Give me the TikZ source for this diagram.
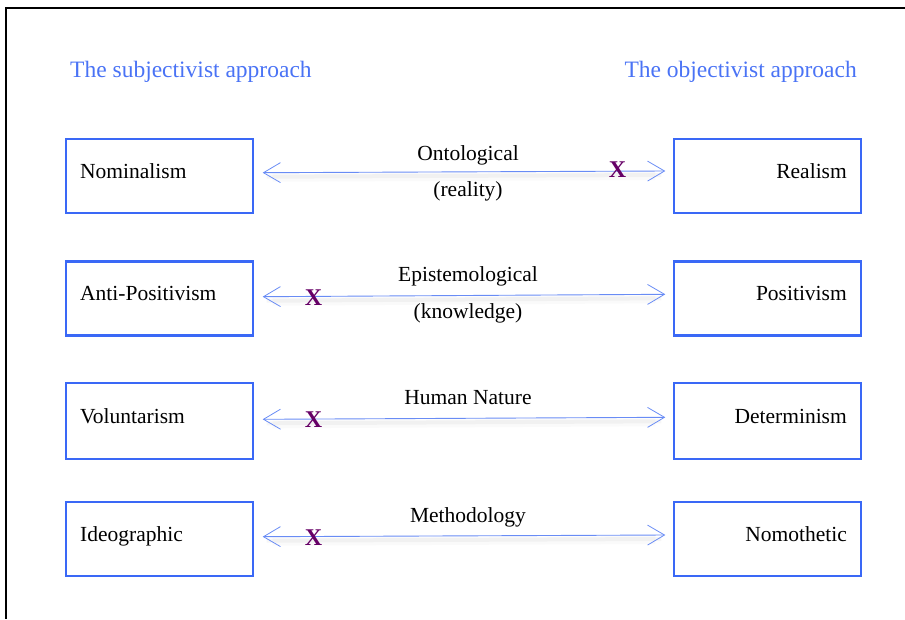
\documentclass[tikz,border=0pt]{standalone}
\usepackage{fontspec}
\setmainfont{Liberation Serif}
\usetikzlibrary{arrows.meta}
\definecolor{boxblue}{RGB}{58,104,246}
\definecolor{headblue}{RGB}{74,115,245}
\definecolor{arrblue}{RGB}{105,140,245}
\definecolor{xpurple}{RGB}{102,0,102}
\begin{document}
\begin{tikzpicture}[x=1pt,y=-1pt,
  box/.style={draw=boxblue,line width=2.4pt,minimum width=187pt,minimum height=74pt,inner sep=0pt},
  lbl/.style={inner sep=0pt,font=\fontsize{21.5}{25}\selectfont},
  head/.style={inner sep=0pt,text=headblue,font=\fontsize{23.5}{27}\selectfont},
  xmark/.style={inner sep=0pt,text=xpurple,font=\fontsize{24}{28}\selectfont\bfseries},
  dual/.style={draw=arrblue,line width=0.9pt,{Straight Barb[length=17pt,width=20pt,line width=0.8pt]}-{Straight Barb[length=17pt,width=20pt,line width=0.8pt]}},
  shade/.style={draw=black,opacity=0.035,line width=4pt,transform canvas={yshift=-4pt}}
]
\useasboundingbox (0,0) rectangle (905,619);
\draw[line width=1.6pt] (905,8) -- (6,8) -- (6,619);

% headers
\node[head,anchor=base west] (hs) at (70,77) {The subjectivist approach};
\node[head,anchor=base east] (ho) at (857,77) {The objectivist approach};

% boxes
\node[box] (L1) at (159.5,176) {};
\node[box] (R1) at (767.5,176) {};
\node[box] (L2) at (159.5,298.5) {};
\node[box] (R2) at (767.5,298.5) {};
\node[box,minimum height=76pt] (L3) at (159.5,421) {};
\node[box,minimum height=76pt] (R3) at (767.5,421) {};
\node[box] (L4) at (159.5,539) {};
\node[box] (R4) at (767.5,539) {};

% box texts
\node[lbl,anchor=base west] (tL1) at (80,178) {Nominalism};
\node[lbl,anchor=base east] (tR1) at (847,178) {Realism};
\node[lbl,anchor=base west] (tL2) at (80,300.7) {Anti-Positivism};
\node[lbl,anchor=base east] (tR2) at (847,300.7) {Positivism};
\node[lbl,anchor=base west] (tL3) at (80,423) {Voluntarism};
\node[lbl,anchor=base east] (tR3) at (847,423) {Determinism};
\node[lbl,anchor=base west] (tL4) at (80,541) {Ideographic};
\node[lbl,anchor=base east] (tR4) at (847,541) {Nomothetic};

% arrow end points
\coordinate (a1) at ([xshift=8.5pt,yshift=3.3pt]L1.east);
\coordinate (b1) at ([xshift=-7.5pt,yshift=5pt]R1.west);
\coordinate (a2) at ([xshift=8.5pt,yshift=1.8pt]L2.east);
\coordinate (b2) at ([xshift=-7.5pt,yshift=4.2pt]R2.west);
\coordinate (a3) at ([xshift=8.5pt,yshift=1.7pt]L3.east);
\coordinate (b3) at ([xshift=-7.5pt,yshift=3.7pt]R3.west);
\coordinate (a4) at ([xshift=8.5pt,yshift=2.3pt]L4.east);
\coordinate (b4) at ([xshift=-7.5pt,yshift=4pt]R4.west);

% soft shadows
\foreach \i in {1,2,3,4}{
  \draw[shade] ([xshift=4pt]a\i) -- ([xshift=-4pt]b\i);
  \draw[draw=black,opacity=0.02,line width=8pt,transform canvas={yshift=-5pt}] ([xshift=10pt]a\i) -- ([xshift=-10pt]b\i);
}

% arrows
\draw[dual] (a1) -- (b1);
\draw[dual] (a2) -- (b2);
\draw[dual] (a3) -- (b3);
\draw[dual] (a4) -- (b4);

% arrow labels
\node[lbl,anchor=base] (o1) at (468,160) {Ontological};
\node[lbl,anchor=base] (o2) at (468,196.7) {(reality)};
\node[lbl,anchor=base] (e1) at (468,281.7) {Epistemological};
\node[lbl,anchor=base] (e2) at (468,318) {(knowledge)};
\node[lbl,anchor=base] (h1) at (468,404) {Human Nature};
\node[lbl,anchor=base] (m1) at (468,522.7) {Methodology};

% X marks
\node[xmark] (x1) at (617.5,170) {X};
\node[xmark] (x2) at (313.5,298) {X};
\node[xmark] (x3) at (313.5,420) {X};
\node[xmark] (x4) at (313.5,538) {X};
\end{tikzpicture}
\end{document}
